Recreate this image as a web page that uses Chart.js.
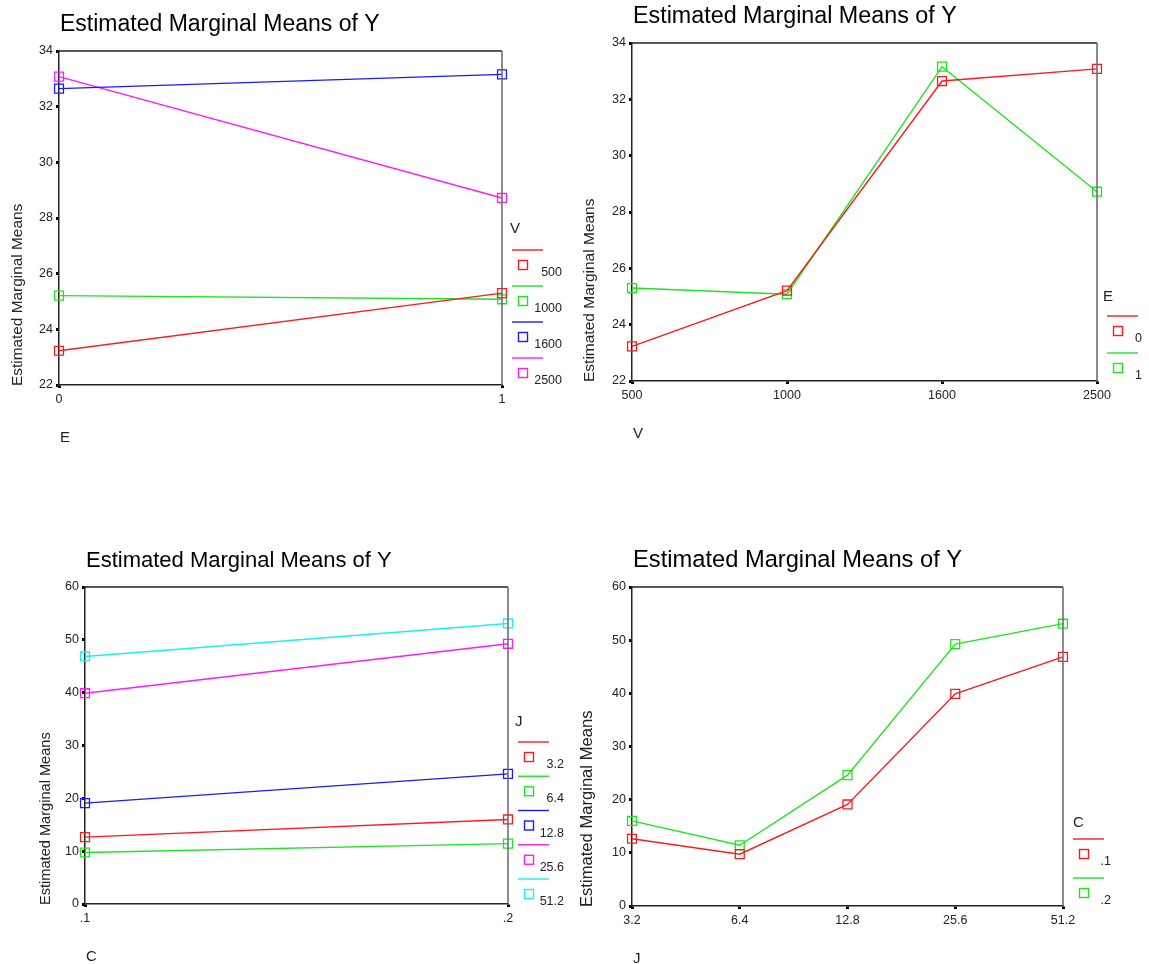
<!DOCTYPE html>
<html>
<head>
<meta charset="utf-8">
<script src="https://cdn.jsdelivr.net/npm/chart.js@4"></script>
<style>
  html, body { margin: 0; padding: 0; background: #fff; }
  body { width: 1149px; height: 964px; position: relative; overflow: hidden; }
  .panel { position: absolute; }
</style>
</head>
<body>
<div class="panel" style="left:0;top:0;width:575px;height:460px"><canvas id="c1"></canvas></div>
<div class="panel" style="left:575px;top:0;width:574px;height:460px"><canvas id="c2"></canvas></div>
<div class="panel" style="left:0;top:480px;width:575px;height:484px"><canvas id="c3"></canvas></div>
<div class="panel" style="left:575px;top:480px;width:574px;height:484px"><canvas id="c4"></canvas></div>
<script>
// データ
const eLabels = ['0', '1'];
const vLabels = ['500', '1000', '1600', '2500'];
const cLabels = ['.1', '.2'];
const jLabels = ['3.2', '6.4', '12.8', '25.6', '51.2'];

// V x E の推定周辺平均
const v500 = [23.23, 25.30];
const v1000 = [25.21, 25.08];
const v1600 = [32.65, 33.16];
const v2500 = [33.08, 28.72];

// J x C の推定周辺平均
const c1 = [12.65, 9.75, 19.1, 39.9, 46.85];
const c2 = [16.0, 11.42, 24.62, 49.25, 53.1];

// 転置（E ごと / J ごと）
const e0 = [v500[0], v1000[0], v1600[0], v2500[0]];
const e1 = [v500[1], v1000[1], v1600[1], v2500[1]];
const j32 = [c1[0], c2[0]];
const j64 = [c1[1], c2[1]];
const j128 = [c1[2], c2[2]];
const j256 = [c1[3], c2[3]];
const j512 = [c1[4], c2[4]];

const RED = '#ff1a1a', GREEN = '#1ee61e', BLUE = '#1a1aff', MAGENTA = '#ff1aff', CYAN = '#1af0f0';
const TICK_FONT = { family: "'Liberation Sans Narrow', 'Liberation Sans', Arial", size: 12.5 };
const TEXT_FONT = "'Liberation Sans', Arial, sans-serif";

// SPSS風の飾り（タイトル・軸タイトル・枠・凡例）
const spssDecor = {
    id: 'spssDecor',
    afterDraw(chart, args, opts) {
        const ctx = chart.ctx;
        const a = chart.chartArea;
        ctx.save();

        // 枠
        ctx.lineWidth = 1.5;
        ctx.strokeStyle = '#222';
        ctx.beginPath();
        ctx.moveTo(a.left, a.top);
        ctx.lineTo(a.right, a.top);
        ctx.stroke();
        ctx.strokeStyle = '#666';
        ctx.beginPath();
        ctx.moveTo(a.right, a.top);
        ctx.lineTo(a.right, a.bottom);
        ctx.stroke();

        // タイトル
        ctx.fillStyle = '#000';
        ctx.textAlign = 'left';
        ctx.textBaseline = 'alphabetic';
        ctx.font = opts.titleSize + 'px ' + TEXT_FONT;
        ctx.fillText('Estimated Marginal Means of Y', a.left + 1, a.top - 20);

        // 軸タイトル
        ctx.font = '15px ' + TEXT_FONT;
        ctx.fillStyle = '#222';
        ctx.fillText(opts.xTitle, a.left + 1, a.bottom + 57);
        ctx.save();
        ctx.translate(a.left - opts.yTitleOff, a.bottom + 1);
        ctx.rotate(-Math.PI / 2);
        ctx.font = opts.yTitleSize + 'px ' + TEXT_FONT;
        ctx.fillText('Estimated Marginal Means', 0, 0);
        ctx.restore();

        // 凡例
        const ds = chart.data.datasets;
        const n = ds.length;
        const lastY = a.bottom - opts.legBottom;
        const firstY = lastY - (n - 1) * opts.legGap;
        ctx.font = '15px ' + TEXT_FONT;
        ctx.fillStyle = '#222';
        ctx.fillText(opts.legTitle, a.right + opts.legTitleX, firstY - opts.legTitleUp);
        ds.forEach((d, i) => {
            const y = firstY + i * opts.legGap;
            ctx.strokeStyle = d.borderColor;
            ctx.lineWidth = 1.4;
            ctx.beginPath();
            ctx.moveTo(a.right + 10, y);
            ctx.lineTo(a.right + 41, y);
            ctx.stroke();
            ctx.strokeRect(a.right + 16.5, y + 10.5, 9, 9);
            ctx.fillStyle = '#222';
            ctx.textAlign = 'right';
            ctx.font = TICK_FONT.size + 'px ' + TICK_FONT.family;
            ctx.fillText(d.label, a.right + opts.legLabelX, y + 26);
            ctx.textAlign = 'left';
        });
        ctx.restore();
    }
};

function makeDataset(label, data, color) {
    return {
        label: label,
        data: data,
        borderColor: color,
        backgroundColor: 'rgba(0,0,0,0)',
        borderWidth: 1.4,
        pointStyle: 'rect',
        pointRadius: 6.3,
        pointBorderWidth: 1.3,
        pointBackgroundColor: 'rgba(0,0,0,0)',
        tension: 0
    };
}

function makeChart(id, labels, datasets, yMin, yMax, yStep, pad, decor) {
    new Chart(document.getElementById(id), {
        type: 'line',
        data: { labels: labels, datasets: datasets },
        options: {
            responsive: true,
            maintainAspectRatio: false,
            animation: false,
            layout: { padding: pad },
            plugins: {
                legend: { display: false },
                title: { display: false },
                tooltip: { enabled: false },
                spssDecor: decor
            },
            scales: {
                x: {
                    offset: false,
                    afterFit: s => { s.height = 20; },
                    grid: { drawOnChartArea: false, tickLength: 3, tickWidth: 3, tickColor: '#000' },
                    border: { color: '#222', width: 1.5 },
                    ticks: { color: '#222', font: TICK_FONT, padding: 4, maxRotation: 0, autoSkip: false }
                },
                y: {
                    min: yMin,
                    max: yMax,
                    afterFit: s => { s.width = 20; },
                    grid: { drawOnChartArea: false, tickLength: 3, tickWidth: 3, tickColor: '#000' },
                    border: { color: '#222', width: 1.5 },
                    ticks: { stepSize: yStep, color: '#222', font: TICK_FONT, padding: 3 }
                }
            }
        },
        plugins: [spssDecor]
    });
}

makeChart('c1', eLabels, [
    makeDataset('500', v500, RED),
    makeDataset('1000', v1000, GREEN),
    makeDataset('1600', v1600, BLUE),
    makeDataset('2500', v2500, MAGENTA)
], 22, 34, 2,
{ left: 39, right: 73, top: 51, bottom: 55 },
{ titleSize: 23, xTitle: 'E', yTitleOff: 37, yTitleSize: 15.4, legTitle: 'V', legTitleX: 8, legTitleUp: 17, legBottom: 27, legGap: 36, legLabelX: 60 });

makeChart('c2', vLabels, [
    makeDataset('0', e0, RED),
    makeDataset('1', e1, GREEN)
], 22, 34, 2,
{ left: 37, right: 52, top: 43, bottom: 59 },
{ titleSize: 23.3, xTitle: 'V', yTitleOff: 38, yTitleSize: 15.5, legTitle: 'E', legTitleX: 6, legTitleUp: 15, legBottom: 28, legGap: 37, legLabelX: 45 });

makeChart('c3', cLabels, [
    makeDataset('3.2', j32, RED),
    makeDataset('6.4', j64, GREEN),
    makeDataset('12.8', j128, BLUE),
    makeDataset('25.6', j256, MAGENTA),
    makeDataset('51.2', j512, CYAN)
], 0, 60, 10,
{ left: 65, right: 67, top: 107, bottom: 40 },
{ titleSize: 22, xTitle: 'C', yTitleOff: 35, yTitleSize: 14.6, legTitle: 'J', legTitleX: 7, legTitleUp: 16, legBottom: 25, legGap: 34.25, legLabelX: 56 });

makeChart('c4', jLabels, [
    makeDataset('.1', c1, RED),
    makeDataset('.2', c2, GREEN)
], 0, 60, 10,
{ left: 37, right: 86, top: 107, bottom: 38 },
{ titleSize: 23.7, xTitle: 'J', yTitleOff: 40, yTitleSize: 16.6, legTitle: 'C', legTitleX: 10, legTitleUp: 12, legBottom: 28, legGap: 39, legLabelX: 48 });
</script>
</body>
</html>
